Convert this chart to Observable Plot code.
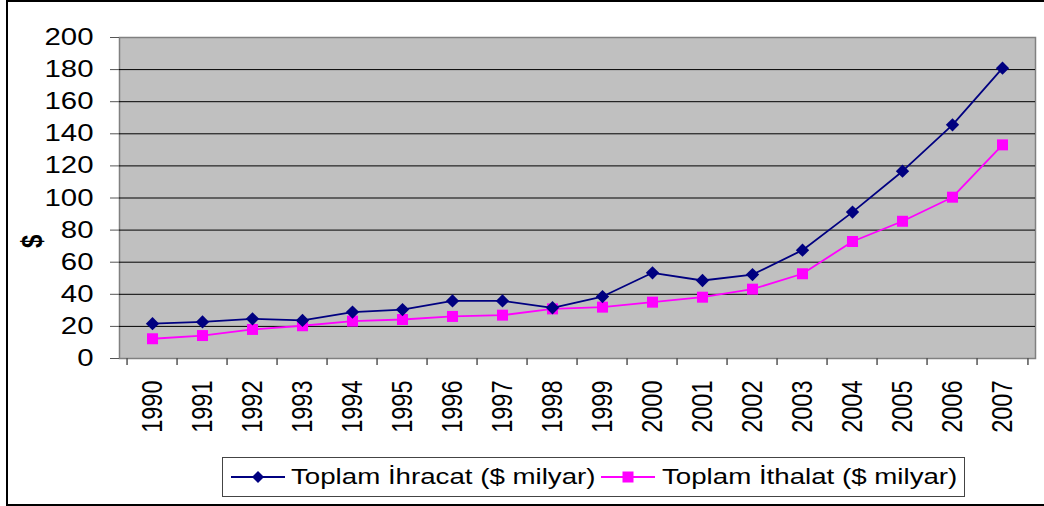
<!DOCTYPE html>
<html>
<head>
<meta charset="utf-8">
<script src="https://cdn.jsdelivr.net/npm/d3@7"></script>
<script src="https://cdn.jsdelivr.net/npm/@observablehq/plot@0.6"></script>
<style>
  html, body { margin: 0; padding: 0; background: #fff; }
  #wrap { position: relative; width: 1044px; height: 506px; overflow: hidden; font-family: "Liberation Sans", Arial, sans-serif; }
  #frame { position: absolute; left: 6px; top: 0; width: 1038px; height: 506px; box-sizing: border-box;
           border-left: 2px solid #000; border-top: 2px solid #000; border-bottom: 2px solid #000; pointer-events: none; }
  #chart { position: absolute; left: 0; top: 0; }
  #legend { position: absolute; left: 222px; top: 457px; width: 743px; height: 40px; box-sizing: border-box;
            border: 1px solid #444; font-size: 22.5px; color: #000; }
  .sw { position: absolute; top: 9px; }
  .lt { position: absolute; top: 6px; white-space: nowrap; transform: scaleX(1.23); transform-origin: 0 50%; line-height: 26px; }
</style>
</head>
<body>
<div id="wrap">
  <div id="chart"></div>
  <div id="legend"></div>
  <div id="frame"></div>
</div>
<script>
const years = ["1990","1991","1992","1993","1994","1995","1996","1997","1998","1999",
               "2000","2001","2002","2003","2004","2005","2006","2007"];
const exportsVals = [21.7, 22.8, 24.7, 23.7, 28.9, 30.5, 35.9, 35.9, 31.6, 38.6,
                     53.4, 48.6, 52.3, 67.5, 91.2, 116.7, 145.6, 180.9];
const importsVals = [12.3, 14.3, 18.1, 20.4, 23.3, 24.3, 26.2, 27.0, 30.9, 32.0,
                     35.1, 38.2, 43.2, 52.8, 72.9, 85.5, 100.5, 133.1];
const yTicks = [0, 20, 40, 60, 80, 100, 120, 140, 160, 180, 200];
const seriesNames = ["Toplam İhracat ($ milyar)", "Toplam İthalat ($ milyar)"];
const yLabel = "$";

const exportColor = "#000080";
const importColor = "#FF00FF";
const stretch = 1.25;

const width = 1044, height = 450;
const mL = 119, mR = 9, mT = 37, mB = 92;
const bw = (width - mL - mR) / years.length;

const exp = years.map((y, i) => ({year: y, value: exportsVals[i]}));
const imp = years.map((y, i) => ({year: y, value: importsVals[i]}));

const chart = Plot.plot({
  width, height,
  marginLeft: mL, marginRight: mR, marginTop: mT, marginBottom: mB,
  style: {fontFamily: "'Liberation Sans', Arial, sans-serif", background: "transparent", color: "#000"},
  x: {type: "band", domain: years, padding: 0, label: null},
  y: {domain: [0, 200], label: null},
  marks: [
    Plot.frame({fill: "#C0C0C0", stroke: "#808080", strokeWidth: 1.5}),
    Plot.ruleY(yTicks.filter(t => t > 0 && t < 200), {stroke: "#000", strokeWidth: 1}),
    Plot.axisY({ticks: yTicks, tickSize: 9, tickPadding: 17, fontSize: 23.5, stroke: "#555", label: null}),
    Plot.axisX({tickSize: 0, tickPadding: 22, tickRotate: -90, fontSize: 23.5, label: null}),
    Plot.ruleX(years, {x: d => d, dx: -bw / 2, y1: 0, y2: -4.4, stroke: "#555", strokeWidth: 1.5}),
    Plot.ruleX([years[years.length - 1]], {x: d => d, dx: bw / 2, y1: 0, y2: -4.4, stroke: "#555", strokeWidth: 1.5}),
    Plot.text([yLabel], {frameAnchor: "left", dx: -87, dy: 50, rotate: -90, fontSize: 24, fontWeight: "bold"}),
    Plot.line(imp, {x: "year", y: "value", stroke: importColor, strokeWidth: 1.8}),
    Plot.dot(imp, {x: "year", y: "value", symbol: "square", r: 6.2, fill: importColor, stroke: "none"}),
    Plot.line(exp, {x: "year", y: "value", stroke: exportColor, strokeWidth: 1.8}),
    Plot.dot(exp, {x: "year", y: "value", symbol: "diamond2", r: 6, fill: exportColor, stroke: "none"})
  ]
});
document.getElementById("chart").appendChild(chart);

// widen the tick labels horizontally, as in the reference
chart.querySelectorAll('g[aria-label="y-axis tick label"] text, g[aria-label="x-axis tick label"] text, g[aria-label="text"] text').forEach(t => {
  const tr = t.getAttribute("transform");
  if (tr) {
    if (tr.includes("rotate")) t.setAttribute("transform", tr.replace("rotate", `scale(${stretch},1) rotate`));
    else t.setAttribute("transform", tr + ` scale(${stretch},1)`);
  } else {
    const x = +t.getAttribute("x") || 0, y = t.getAttribute("y");
    const yn = parseFloat(y);
    if (y && !String(y).includes("em")) {
      t.setAttribute("transform", `translate(${x},${yn}) scale(${stretch},1)`);
      t.setAttribute("x", 0); t.setAttribute("y", 0);
    } else {
      t.setAttribute("transform", `translate(${x},0) scale(${stretch},1)`);
      t.setAttribute("x", 0);
    }
  }
});

// Legend
const legend = document.getElementById("legend");
const ns = "http://www.w3.org/2000/svg";
function swatch(color, shape) {
  const s = document.createElementNS(ns, "svg");
  s.setAttribute("width", 56); s.setAttribute("height", 20);
  s.setAttribute("class", "sw");
  const l = document.createElementNS(ns, "line");
  l.setAttribute("x1", 1); l.setAttribute("x2", 55); l.setAttribute("y1", 10); l.setAttribute("y2", 10);
  l.setAttribute("stroke", color); l.setAttribute("stroke-width", 1.8);
  s.appendChild(l);
  if (shape === "diamond") {
    const p = document.createElementNS(ns, "path");
    p.setAttribute("d", "M28,4 L34,10 L28,16 L22,10 Z");
    p.setAttribute("fill", color);
    s.appendChild(p);
  } else {
    const r = document.createElementNS(ns, "rect");
    r.setAttribute("x", 22.5); r.setAttribute("y", 4.5); r.setAttribute("width", 11); r.setAttribute("height", 11);
    r.setAttribute("fill", color);
    s.appendChild(r);
  }
  return s;
}
const legendItems = [
  {name: seriesNames[0], color: exportColor, shape: "diamond", sx: 7, tx: 68},
  {name: seriesNames[1], color: importColor, shape: "square", sx: 377, tx: 439}
];
legendItems.forEach(d => {
  const sw = swatch(d.color, d.shape);
  sw.style.left = d.sx + "px";
  legend.appendChild(sw);
  const t = document.createElement("span");
  t.className = "lt";
  t.textContent = d.name;
  t.style.left = d.tx + "px";
  legend.appendChild(t);
});
</script>
</body>
</html>
